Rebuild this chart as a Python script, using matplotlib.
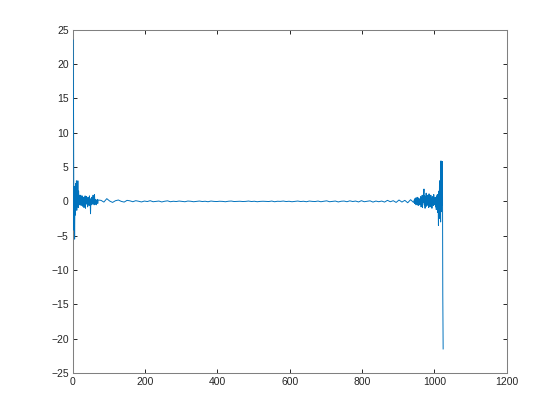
import numpy as np
import matplotlib
matplotlib.use("Agg")
import matplotlib.pyplot as plt

# sample index ranges (left edge, sparse middle, right edge)
x_left = list(range(1, 71))
x_mid = list(range(78, 943, 8))
x_right = list(range(944, 1025))

y_left = [23.5, 13.2, -4.2, 2.2, -5.5, 1.2, -2.0, 2.6, -0.8, 3.0,
          -1.3, 1.8, -0.6, 3.0, -0.9, 1.5, -0.2, 0.9, -0.5, 0.7,
          0.1, 0.9, -0.6, 0.4, -0.3, 0.8, -0.7, 0.5, 0.0, 0.6,
          -0.9, 0.3, -0.2, 0.8, -1.0, 0.5, -0.4, 0.7, -0.3, 0.2,
          -0.8, 0.6, -0.1, 0.5, -0.6, 0.8, -0.3, 0.2, -1.8, 0.4,
          -0.5, 0.6, -0.2, 0.3, -0.4, 0.9, -0.3, 0.4, -0.5, 1.0,
          -0.2, 0.3, -0.4, 0.1, -0.5, 0.2, -0.1, 0.3, -0.3, 0.2]

y_mid = [0.15, -0.1, 0.4, 0.05, -0.15, 0.1, 0.2, 0.0, -0.1, 0.15,
         0.08, -0.05, 0.1, 0.02, -0.08, 0.05, -0.02, 0.1, -0.05, 0.0,
         0.05, -0.08, 0.02, 0.08, -0.05, 0.02, -0.02, 0.05, 0.0, -0.05,
         0.05, 0.02, -0.05, 0.0, 0.05, -0.02, 0.02, -0.05, 0.05, 0.0,
         -0.02, 0.02, 0.0, -0.05, 0.02, 0.05, -0.02, 0.0, 0.02, -0.02,
         0.0, 0.05, -0.02, 0.02, -0.05, 0.0, 0.02, 0.0, -0.02, 0.05,
         -0.05, 0.02, 0.0, 0.05, -0.02, 0.02, -0.05, 0.0, 0.05, -0.02,
         0.02, -0.05, 0.05, 0.0, -0.02, 0.05, -0.05, 0.02, 0.08, -0.05,
         0.0, 0.05, -0.08, 0.02, 0.05, -0.05, 0.08, -0.02, 0.05, -0.08,
         0.1, -0.05, 0.02, 0.08, -0.1, 0.05, -0.05,
         0.05, -0.1, 0.15, -0.05, 0.1, -0.15, 0.2, -0.1, 0.15, -0.2, 0.25, -0.15]

y_right = [0.2, -0.3, 0.4, -0.2, 0.5, -0.5, 0.3, -0.1, 0.6, -0.4,
           0.2, -0.6, 0.5, -0.2, 0.3, -0.5, 0.4,
           -0.3, 0.7, -0.8, 0.5, -0.4, 0.9, -0.9, 0.6, -0.2, 1.0,
           1.8, -0.5, 0.8, -1.0, 0.4, -0.3, 1.2, -0.7, 0.5, -0.2,
           0.9, -0.6, 0.3, -0.9, 1.1, -0.4, 0.6, -0.8, 0.2, 0.9,
           -0.5, 0.4, -1.0, 0.7, -0.3, 0.5, -0.6, 1.0, -0.4, 0.3,
           -0.5, 0.6, -0.8, 0.4, -1.2, 0.8, -0.6, 1.0, -1.6, 0.5,
           -3.5, 1.5, -2.5, 3.0, -1.0, 2.0, -3.0, 5.9, -1.5, 3.5,
           -0.5, 5.8, -13.6, -21.5]

x = np.array(x_left + x_mid + x_right)
y = np.array(y_left + y_mid + y_right)

plt.rcParams['font.family'] = ['Liberation Sans', 'DejaVu Sans']
plt.rcParams['path.simplify'] = False  # keep the narrow spikes

fig = plt.figure(figsize=(5.6, 4.2), dpi=100)
ax = fig.add_axes([0.13, 0.112, 0.775, 0.817])
ax.plot(x, y, color='#0072BD', linewidth=0.7, zorder=3)

ax.set_xlim(0, 1200)
ax.set_ylim(-25, 25)
ax.set_xticks(np.arange(0, 1201, 200))
ax.set_yticks(np.arange(-25, 26, 5))

for s in ax.spines.values():
    s.set_color('#808080')
    s.set_linewidth(0.75)
ax.tick_params(direction='in', length=3, width=0.7, color='#262626',
               labelsize=7.5, labelcolor='#262626',
               top=True, right=True, pad=3)

fig.savefig('out.png', dpi=100)
